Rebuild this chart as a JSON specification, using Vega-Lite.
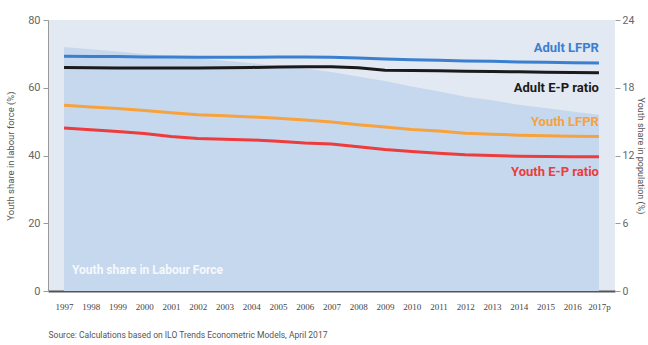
{
  "$schema": "https://vega.github.io/schema/vega-lite/v6.json",
  "width": 567,
  "height": 271,
  "autosize": {"type": "none"},
  "padding": {"left": 48, "top": 20, "right": 33, "bottom": 54},
  "background": "#ffffff",
  "config": {
    "view": {"stroke": null, "fill": "#e2e9f3"},
    "font": "Roboto",
    "axis": {"grid": false, "labelFont": "Roboto", "titleFont": "Roboto"}
  },
  "datasets": {
    "share": [
      {"year": "1997", "share": 21.6}, {"year": "1998", "share": 21.4}, {"year": "1999", "share": 21.2},
      {"year": "2000", "share": 21.0}, {"year": "2001", "share": 20.8}, {"year": "2002", "share": 20.6},
      {"year": "2003", "share": 20.4}, {"year": "2004", "share": 20.2}, {"year": "2005", "share": 19.9},
      {"year": "2006", "share": 19.7}, {"year": "2007", "share": 19.4}, {"year": "2008", "share": 19.0},
      {"year": "2009", "share": 18.6}, {"year": "2010", "share": 18.1}, {"year": "2011", "share": 17.7},
      {"year": "2012", "share": 17.2}, {"year": "2013", "share": 16.9}, {"year": "2014", "share": 16.5},
      {"year": "2015", "share": 16.2}, {"year": "2016", "share": 15.9}, {"year": "2017p", "share": 15.6}
    ],
    "rates": [
      {"year": "1997", "s": "Adult LFPR", "v": 69.3}, {"year": "1998", "s": "Adult LFPR", "v": 69.2}, {"year": "1999", "s": "Adult LFPR", "v": 69.2},
      {"year": "2000", "s": "Adult LFPR", "v": 69.1}, {"year": "2001", "s": "Adult LFPR", "v": 69.1}, {"year": "2002", "s": "Adult LFPR", "v": 69.0},
      {"year": "2003", "s": "Adult LFPR", "v": 69.0}, {"year": "2004", "s": "Adult LFPR", "v": 69.0}, {"year": "2005", "s": "Adult LFPR", "v": 69.1},
      {"year": "2006", "s": "Adult LFPR", "v": 69.1}, {"year": "2007", "s": "Adult LFPR", "v": 69.0}, {"year": "2008", "s": "Adult LFPR", "v": 68.8},
      {"year": "2009", "s": "Adult LFPR", "v": 68.5}, {"year": "2010", "s": "Adult LFPR", "v": 68.3}, {"year": "2011", "s": "Adult LFPR", "v": 68.1},
      {"year": "2012", "s": "Adult LFPR", "v": 67.9}, {"year": "2013", "s": "Adult LFPR", "v": 67.8}, {"year": "2014", "s": "Adult LFPR", "v": 67.6},
      {"year": "2015", "s": "Adult LFPR", "v": 67.5}, {"year": "2016", "s": "Adult LFPR", "v": 67.4}, {"year": "2017p", "s": "Adult LFPR", "v": 67.3},
      {"year": "1997", "s": "Adult E-P ratio", "v": 66.0}, {"year": "1998", "s": "Adult E-P ratio", "v": 65.9}, {"year": "1999", "s": "Adult E-P ratio", "v": 65.8},
      {"year": "2000", "s": "Adult E-P ratio", "v": 65.8}, {"year": "2001", "s": "Adult E-P ratio", "v": 65.8}, {"year": "2002", "s": "Adult E-P ratio", "v": 65.8},
      {"year": "2003", "s": "Adult E-P ratio", "v": 65.9}, {"year": "2004", "s": "Adult E-P ratio", "v": 66.0}, {"year": "2005", "s": "Adult E-P ratio", "v": 66.1},
      {"year": "2006", "s": "Adult E-P ratio", "v": 66.2}, {"year": "2007", "s": "Adult E-P ratio", "v": 66.2}, {"year": "2008", "s": "Adult E-P ratio", "v": 65.9},
      {"year": "2009", "s": "Adult E-P ratio", "v": 65.2}, {"year": "2010", "s": "Adult E-P ratio", "v": 65.1}, {"year": "2011", "s": "Adult E-P ratio", "v": 65.0},
      {"year": "2012", "s": "Adult E-P ratio", "v": 64.9}, {"year": "2013", "s": "Adult E-P ratio", "v": 64.8}, {"year": "2014", "s": "Adult E-P ratio", "v": 64.7},
      {"year": "2015", "s": "Adult E-P ratio", "v": 64.6}, {"year": "2016", "s": "Adult E-P ratio", "v": 64.5}, {"year": "2017p", "s": "Adult E-P ratio", "v": 64.4},
      {"year": "1997", "s": "Youth LFPR", "v": 54.8}, {"year": "1998", "s": "Youth LFPR", "v": 54.3}, {"year": "1999", "s": "Youth LFPR", "v": 53.9},
      {"year": "2000", "s": "Youth LFPR", "v": 53.3}, {"year": "2001", "s": "Youth LFPR", "v": 52.6}, {"year": "2002", "s": "Youth LFPR", "v": 52.0},
      {"year": "2003", "s": "Youth LFPR", "v": 51.7}, {"year": "2004", "s": "Youth LFPR", "v": 51.4}, {"year": "2005", "s": "Youth LFPR", "v": 51.0},
      {"year": "2006", "s": "Youth LFPR", "v": 50.5}, {"year": "2007", "s": "Youth LFPR", "v": 49.9}, {"year": "2008", "s": "Youth LFPR", "v": 49.1},
      {"year": "2009", "s": "Youth LFPR", "v": 48.4}, {"year": "2010", "s": "Youth LFPR", "v": 47.7}, {"year": "2011", "s": "Youth LFPR", "v": 47.2},
      {"year": "2012", "s": "Youth LFPR", "v": 46.6}, {"year": "2013", "s": "Youth LFPR", "v": 46.3}, {"year": "2014", "s": "Youth LFPR", "v": 46.0},
      {"year": "2015", "s": "Youth LFPR", "v": 45.8}, {"year": "2016", "s": "Youth LFPR", "v": 45.7}, {"year": "2017p", "s": "Youth LFPR", "v": 45.6},
      {"year": "1997", "s": "Youth E-P ratio", "v": 48.1}, {"year": "1998", "s": "Youth E-P ratio", "v": 47.6}, {"year": "1999", "s": "Youth E-P ratio", "v": 47.1},
      {"year": "2000", "s": "Youth E-P ratio", "v": 46.5}, {"year": "2001", "s": "Youth E-P ratio", "v": 45.6}, {"year": "2002", "s": "Youth E-P ratio", "v": 45.0},
      {"year": "2003", "s": "Youth E-P ratio", "v": 44.8}, {"year": "2004", "s": "Youth E-P ratio", "v": 44.6}, {"year": "2005", "s": "Youth E-P ratio", "v": 44.2},
      {"year": "2006", "s": "Youth E-P ratio", "v": 43.7}, {"year": "2007", "s": "Youth E-P ratio", "v": 43.4}, {"year": "2008", "s": "Youth E-P ratio", "v": 42.6},
      {"year": "2009", "s": "Youth E-P ratio", "v": 41.8}, {"year": "2010", "s": "Youth E-P ratio", "v": 41.2}, {"year": "2011", "s": "Youth E-P ratio", "v": 40.7},
      {"year": "2012", "s": "Youth E-P ratio", "v": 40.2}, {"year": "2013", "s": "Youth E-P ratio", "v": 40.0}, {"year": "2014", "s": "Youth E-P ratio", "v": 39.8},
      {"year": "2015", "s": "Youth E-P ratio", "v": 39.7}, {"year": "2016", "s": "Youth E-P ratio", "v": 39.6}, {"year": "2017p", "s": "Youth E-P ratio", "v": 39.6}
    ],
    "labels": [
      {"year": "2017p", "s": "Adult LFPR", "label": "Adult LFPR", "ly": 71.6},
      {"year": "2017p", "s": "Adult E-P ratio", "label": "Adult E-P ratio", "ly": 59.8},
      {"year": "2017p", "s": "Youth LFPR", "label": "Youth LFPR", "ly": 49.8},
      {"year": "2017p", "s": "Youth E-P ratio", "label": "Youth E-P ratio", "ly": 35.1}
    ]
  },
  "layer": [
    {
      "data": {"name": "share"},
      "mark": {"type": "area", "color": "#c6d8ee", "opacity": 1},
      "encoding": {
        "x": {
          "field": "year", "type": "ordinal",
          "scale": {"type": "point", "padding": 0.6},
          "axis": {
            "labelAngle": 0, "ticks": false, "labelPadding": 11, "labelFontSize": 9, "labelColor": "#444",
            "labelFont": "Liberation Serif", "labelOverlap": false,
            "domainColor": "#555", "domainWidth": 2,
            "title": "Source: Calculations based on ILO Trends Econometric Models, April 2017",
            "titleAnchor": "start", "titleAlign": "left", "titleFontSize": 8.5, "titleFontWeight": "normal",
            "titleColor": "#555", "titlePadding": 19
          }
        },
        "y": {
          "field": "share", "type": "quantitative",
          "scale": {"domain": [0, 24]},
          "axis": {
            "orient": "right", "values": [0, 6, 12, 18, 24], "domain": false, "tickColor": "#999", "tickSize": 5,
            "labelColor": "#666", "labelFontSize": 10.5, "labelPadding": 2,
            "title": "Youth share in population (%)", "titleFontSize": 9, "titleFontWeight": "normal",
            "titleColor": "#555", "titlePadding": 2
          }
        }
      }
    },
    {
      "layer": [
        {
          "data": {"name": "rates"},
          "mark": {"type": "line", "strokeWidth": 3},
          "encoding": {
            "x": {"field": "year", "type": "ordinal"},
            "y": {
              "field": "v", "type": "quantitative",
              "scale": {"domain": [0, 80]},
              "axis": {
                "orient": "left", "values": [0, 20, 40, 60, 80], "domainColor": "#999", "tickColor": "#999", "tickSize": 5,
                "labelColor": "#666", "labelFontSize": 11, "labelPadding": 3,
                "title": "Youth share in labour force (%)", "titleFontSize": 9.5, "titleFontWeight": "normal",
                "titleColor": "#555", "titlePadding": 12
              }
            },
            "color": {
              "field": "s", "type": "nominal", "legend": null,
              "scale": {
                "domain": ["Adult LFPR", "Adult E-P ratio", "Youth LFPR", "Youth E-P ratio"],
                "range": ["#3b7fcf", "#1a1a1a", "#f7a23c", "#ee3b3b"]
              }
            }
          }
        },
        {
          "data": {"name": "labels"},
          "mark": {"type": "text", "align": "right", "baseline": "middle", "fontSize": 13, "fontWeight": "bold", "dx": 0},
          "encoding": {
            "x": {"field": "year", "type": "ordinal"},
            "y": {"field": "ly", "type": "quantitative"},
            "text": {"field": "label"},
            "color": {"field": "s", "type": "nominal", "legend": null}
          }
        },
        {
          "data": {"values": [{"year": "1997", "ly": 6.2, "label": "Youth share in Labour Force"}]},
          "mark": {"type": "text", "align": "left", "baseline": "middle", "fontSize": 12, "fontWeight": "bold", "dx": 8, "color": "#ffffff", "opacity": 0.85},
          "encoding": {
            "x": {"field": "year", "type": "ordinal"},
            "y": {"field": "ly", "type": "quantitative"},
            "text": {"field": "label"}
          }
        }
      ]
    }
  ],
  "resolve": {"scale": {"y": "independent"}}
}
